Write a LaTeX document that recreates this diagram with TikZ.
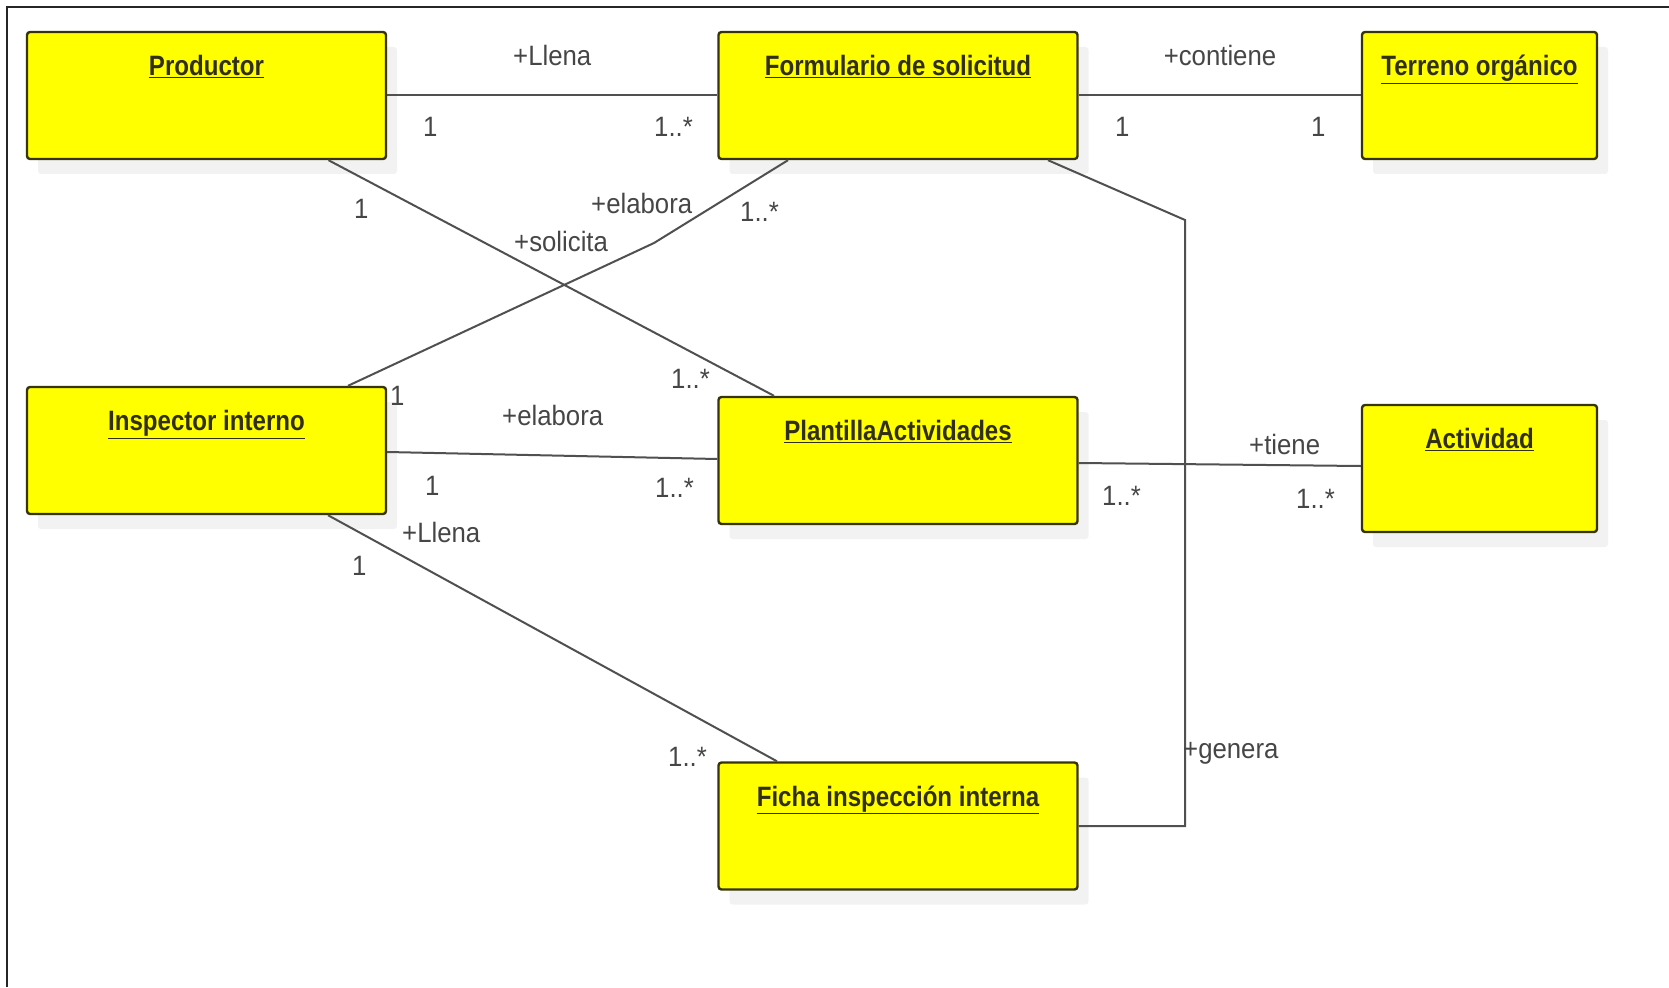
\documentclass[tikz,border=0pt]{standalone}
\usepackage{fontspec}
\setmainfont{Liberation Sans}[FakeStretch=0.92]
\newfontfamily\titlefont{Liberation Sans}[FakeStretch=0.86]
\usetikzlibrary{shadows}
\definecolor{boxyellow}{RGB}{255,255,0}
\definecolor{boxline}{RGB}{55,52,10}
\definecolor{titlecol}{RGB}{50,48,20}
\definecolor{labelcol}{RGB}{70,70,70}
\definecolor{assoccol}{RGB}{80,80,80}
\tikzset{>=stealth}
\tikzset{
    umlbox/.style = {draw=boxline, fill=boxyellow, line width=2.4pt, rounded corners=3pt,
        minimum width=359pt, minimum height=127pt, inner sep=0pt,
        drop shadow={shadow xshift=11pt, shadow yshift=-15pt, fill=black!5, opacity=1}},
    umltitle/.style = {anchor=base, inner sep=0pt, text=titlecol, font=\titlefont\bfseries\fontsize{28}{30}\selectfont},
    mult/.style = {anchor=base west, inner sep=0pt, text=labelcol, font=\fontsize{28}{30}\selectfont},
    assoc/.style = {draw=assoccol, line width=2pt}
}

\begin{document}
\begin{tikzpicture}[x=1pt, y=-1pt]
    \useasboundingbox (0,0) rectangle (1669,987);
    \draw[black!85, line width=2pt] (7,987) -- (7,7) -- (1669,7);

    \node[umlbox] (prod) at (206.5,95.5) {};
    \node[umlbox] (form) at (898,95.5) {};
    \node[umlbox, minimum width=235pt] (terr) at (1479.5,95.5) {};
    \node[umlbox] (insp) at (206.5,450.5) {};
    \node[umlbox] (plan) at (898,460.5) {};
    \node[umlbox, minimum width=235pt] (acti) at (1479.5,468.5) {};
    \node[umlbox] (ficha) at (898,826) {};

    \node[umltitle] (prodT) at ([yshift=-45pt]prod.north) {\underline{Productor}};
    \node[umltitle] (formT) at ([yshift=-45pt]form.north) {\underline{Formulario de solicitud}};
    \node[umltitle] (terrT) at ([yshift=-45pt]terr.north) {\underline{Terreno orgánico}};
    \node[umltitle] (inspT) at ([yshift=-45pt]insp.north) {\underline{Inspector interno}};
    \node[umltitle] (planT) at ([yshift=-45pt]plan.north) {\underline{PlantillaActividades}};
    \node[umltitle] (actiT) at ([yshift=-45pt]acti.north) {\underline{Actividad}};
    \node[umltitle] (fichaT) at ([yshift=-45pt]ficha.north) {\underline{Ficha inspección interna}};

    \coordinate (kinkA) at (654,243);
    \coordinate (kinkB) at (1185,220);

    \draw[assoc] (prod.east) -- (form.west);
    \draw[assoc] (form.east) -- (terr.west);
    \draw[assoc] ([xshift=122pt]prod.south) -- ([xshift=-124pt]plan.north);
    \draw[assoc] ([xshift=141.5pt]insp.north) -- (kinkA) -- ([xshift=-110pt]form.south);
    \draw[assoc] ([yshift=-1.5pt]insp.east) -- ([yshift=1.5pt]plan.west);
    \draw[assoc] ([xshift=121.5pt]insp.south) -- ([xshift=-121pt]ficha.north);
    \draw[assoc] ([yshift=-2.5pt]plan.east) -- ([yshift=2.5pt]acti.west);
    \draw[assoc] ([xshift=150pt]form.south) -- (kinkB) |- (ficha.east);

    \node[mult] (llenaA) at (513,66) {+Llena};
    \node[mult] (mA1) at (423,137) {1};
    \node[mult] (mA2) at (654,137) {1..*};
    \node[mult, anchor=base] (contiene) at (1220,66) {+contiene};
    \node[mult] (mB1) at (1115,137) {1};
    \node[mult] (mB2) at (1311,137) {1};
    \node[mult] (mC1) at (354,218) {1};
    \node[mult] (solicita) at (514,251) {+solicita};
    \node[mult] (mC2) at (671,388) {1..*};
    \node[mult] (mD1) at (390,405) {1};
    \node[mult] (elaboraA) at (591,213) {+elabora};
    \node[mult] (mD2) at (740,221) {1..*};
    \node[mult] (elaboraB) at (502,425) {+elabora};
    \node[mult] (mE1) at (425,495) {1};
    \node[mult] (mE2) at (655,497) {1..*};
    \node[mult] (llenaB) at (402,542) {+Llena};
    \node[mult] (mF1) at (352,575) {1};
    \node[mult] (mF2) at (668,766) {1..*};
    \node[mult] (tiene) at (1249,454) {+tiene};
    \node[mult] (mG1) at (1102,505) {1..*};
    \node[mult] (mG2) at (1296,508) {1..*};
    \node[mult] (genera) at (1183,758) {+genera};
\end{tikzpicture}
\end{document}
